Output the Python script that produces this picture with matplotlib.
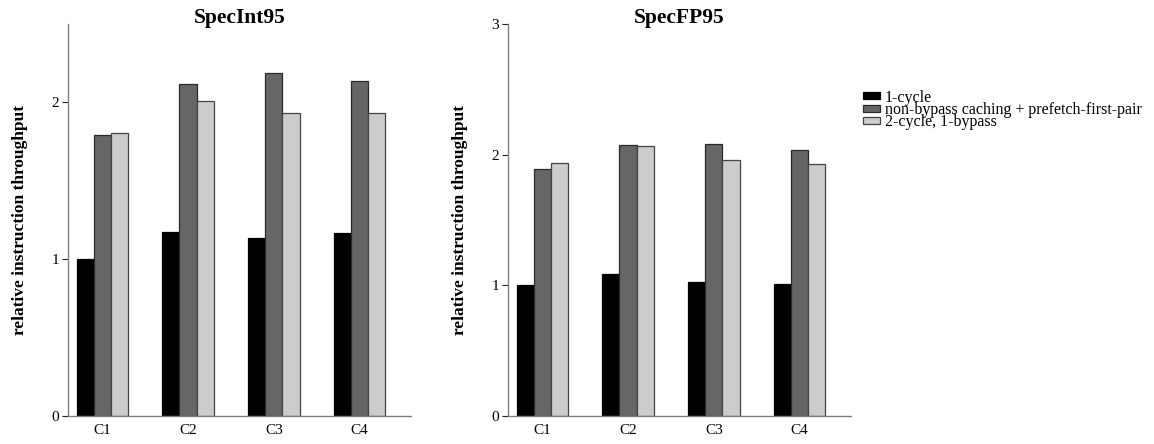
import matplotlib
matplotlib.use("Agg")
import matplotlib.pyplot as plt
import numpy as np
from matplotlib.patches import Patch

categories = ["C1", "C2", "C3", "C4"]
series_names = ["1-cycle", "non-bypass caching + prefetch-first-pair", "2-cycle, 1-bypass"]
specint_one_cycle = [1.00, 1.174, 1.138, 1.168]
specint_nonbypass = [1.79, 2.117, 2.185, 2.138]
specint_two_cycle = [1.805, 2.006, 1.934, 1.930]
specfp_one_cycle = [1.00, 1.085, 1.029, 1.013]
specfp_nonbypass = [1.889, 2.073, 2.081, 2.035]
specfp_two_cycle = [1.938, 2.063, 1.958, 1.927]
titles = ["SpecInt95", "SpecFP95"]
ylabel = "relative instruction throughput"

colors = ["#000000", "#666666", "#cccccc"]
edges = ["#000000", "#2a2a2a", "#444444"]

plt.rcParams['font.family'] = ['Liberation Serif', 'DejaVu Serif']

fig = plt.figure(figsize=(11.54, 4.44), dpi=100)
ax1 = fig.add_axes([68/1154, 28/444, 343/1154, 392/444])
ax2 = fig.add_axes([508/1154, 28/444, 343/1154, 392/444])

datasets = [
    (ax1, [specint_one_cycle, specint_nonbypass, specint_two_cycle], 2.5, [0, 1, 2]),
    (ax2, [specfp_one_cycle, specfp_nonbypass, specfp_two_cycle], 3.0, [0, 1, 2, 3]),
]
x = np.arange(len(categories))
w = 0.2
for (ax, series, ymax, yt), title in zip(datasets, titles):
    for i, vals in enumerate(series):
        ax.bar(x + (i - 1) * w, vals, width=w, color=colors[i], edgecolor=edges[i],
               linewidth=0.9, label=series_names[i])
    ax.set_xlim(-0.4, 3.6)
    ax.set_ylim(0, ymax)
    ax.set_yticks(yt)
    ax.set_xticks(x)
    ax.set_xticklabels(categories, fontsize=11)
    ax.tick_params(axis='y', labelsize=11, length=4.5, width=0.8, color='#222222', pad=2)
    ax.tick_params(axis='x', length=0, pad=6)
    for s in ['top', 'right']:
        ax.spines[s].set_visible(False)
    for s in ['left', 'bottom']:
        ax.spines[s].set_color('#808080')
        ax.spines[s].set_linewidth(1.0)
    ax.set_title(title, fontsize=15.5, fontweight='bold', y=1 + 1/392, pad=0, va='baseline')
    ax.set_ylabel(ylabel, fontsize=12.5, fontweight='bold', labelpad=16.5)

handles = [Patch(facecolor=colors[i], edgecolor=edges[i], linewidth=0.9, label=series_names[i])
           for i in range(3)]
fig.legend(handles=handles, loc='upper left', bbox_to_anchor=(863/1154, 1 - 89.5/444),
           frameon=False, fontsize=11.5, handlelength=1.05, handleheight=0.33,
           handletextpad=0.3, labelspacing=-0.22, borderaxespad=0, borderpad=0)

fig.savefig("out.png", dpi=100)
